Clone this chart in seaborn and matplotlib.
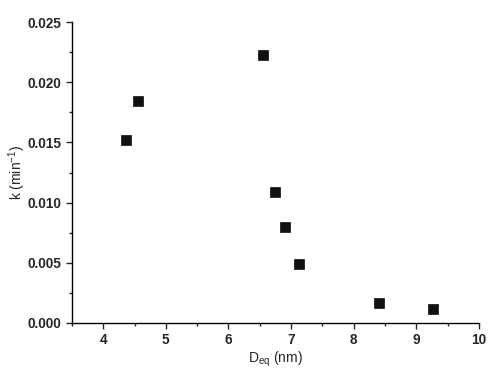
import matplotlib
matplotlib.use("Agg")
import matplotlib.pyplot as plt
import seaborn as sns
from matplotlib.ticker import MultipleLocator, FormatStrFormatter

# 데이터
d_eq = [4.37, 4.555, 6.555, 6.75, 6.91, 7.125, 8.40, 9.26]
k_rate = [0.0152, 0.0184, 0.0223, 0.01086, 0.0080, 0.00494, 0.00167, 0.00117]

sns.set_style('ticks')
plt.rcParams['font.family'] = ['Liberation Sans', 'DejaVu Sans']

fig = plt.figure(figsize=(5.03, 3.80), dpi=100)
ax = fig.add_axes([0.143, 0.15, 0.809, 0.792])

sns.scatterplot(x=d_eq, y=k_rate, ax=ax, marker='s', s=48,
                color='#111111', edgecolor='#111111', linewidth=0.5)

ax.set_xlim(3.5, 10)
ax.set_ylim(0, 0.025)
ax.xaxis.set_major_locator(MultipleLocator(1))
ax.xaxis.set_minor_locator(MultipleLocator(0.5))
ax.yaxis.set_major_locator(MultipleLocator(0.005))
ax.yaxis.set_minor_locator(MultipleLocator(0.0025))
ax.yaxis.set_major_formatter(FormatStrFormatter('%.3f'))

sns.despine(ax=ax)
for sp in ['left', 'bottom']:
    ax.spines[sp].set_linewidth(1.0)
    ax.spines[sp].set_color('black')
ax.tick_params(which='major', direction='out', length=4, width=1, labelsize=9.8)
ax.tick_params(which='minor', direction='out', length=2.5, width=1)
for lab in ax.get_xticklabels() + ax.get_yticklabels():
    lab.set_fontweight('bold')

ax.set_xlabel(r'D$_{\mathregular{eq}}$ (nm)', fontsize=10, labelpad=2)
ax.set_ylabel(r'k (min$^{\mathregular{-1}}$)', fontsize=10, labelpad=0)

fig.savefig('out.png', dpi=100)
